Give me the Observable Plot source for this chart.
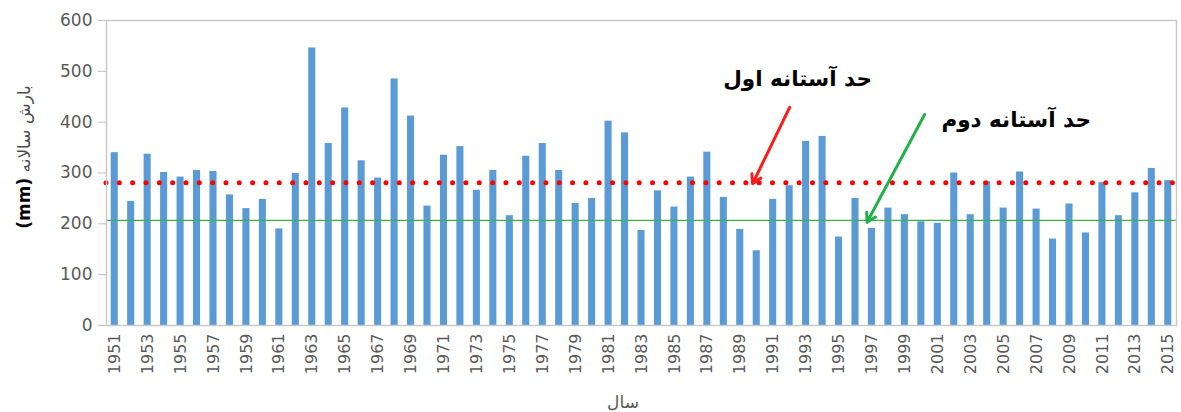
<!DOCTYPE html>
<html>
<head>
<meta charset="utf-8">
<script src="https://cdn.jsdelivr.net/npm/d3@7"></script>
<script src="https://cdn.jsdelivr.net/npm/@observablehq/plot@0.6"></script>
<style>
  html, body { margin: 0; padding: 0; background: #fff; }
  #chart { width: 1181px; height: 412px; }
</style>
</head>
<body>
<div id="chart"></div>
<script>
const years = [1951,1952,1953,1954,1955,1956,1957,1958,1959,1960,
  1961,1962,1963,1964,1965,1966,1967,1968,1969,1970,
  1971,1972,1973,1974,1975,1976,1977,1978,1979,1980,
  1981,1982,1983,1984,1985,1986,1987,1988,1989,1990,
  1991,1992,1993,1994,1995,1996,1997,1998,1999,2000,
  2001,2002,2003,2004,2005,2006,2007,2008,2009,2010,
  2011,2012,2013,2014,2015];
const rainfall = [340,244,337,301,292,305,303,257,230,248,
  190,299,546,358,428,324,290,485,412,235,
  335,352,266,305,216,333,358,305,240,250,
  402,379,187,265,233,292,341,252,189,147,
  248,275,362,372,174,250,191,231,218,204,
  201,300,218,283,231,302,229,170,239,182,
  281,216,261,309,285];
const tickYears = years.filter((y, i) => i % 2 === 0);
const yTicks = [0,100,200,300,400,500,600];
const threshold1 = 281;   // حد آستانه اول
const threshold2 = 207;   // حد آستانه دوم

const labels = [
  {text: "حد آستانه اول", x: 1997.0, y: 484},
  {text: "حد آستانه دوم", x: 2010.3, y: 405}
];
const arrows = [
  {x1: 1992.0, y1: 429, x2: 1989.75, y2: 279, color: "#ff1a1a"},
  {x1: 2000.2, y1: 415, x2: 1996.7, y2: 203, color: "#22b04a"}
];

const data = years.map((y, i) => ({year: y, value: rainfall[i]}));

const plot = Plot.plot({
  width: 1181,
  height: 412,
  marginLeft: 106,
  marginRight: 5,
  marginTop: 20,
  marginBottom: 87,
  style: {fontFamily: "DejaVu Sans", fontSize: "16px", color: "#595959", background: "#fff"},
  x: {type: "linear", domain: [1950.5, 2015.5]},
  y: {domain: [0, 600]},
  marks: [
    Plot.rectY(data, {x1: d => d.year - 0.5, x2: d => d.year + 0.5, y: "value",
      fill: "#5b9bd5", insetLeft: 4.7, insetRight: 4.7}),
    Plot.ruleY([threshold2], {stroke: "#3cb34a", strokeWidth: 1.2}),
    Plot.ruleY([threshold1], {stroke: "#ff0000", strokeWidth: 5, strokeLinecap: "round",
      strokeDasharray: "0 13.33"}),
    Plot.frame({stroke: "#c9c9c9", strokeWidth: 1.5}),
    Plot.axisY({ticks: yTicks, tickSize: 8, tickPadding: 6, label: null,
      fontSize: 17, stroke: "#bfbfbf"}),
    Plot.axisX({ticks: tickYears, tickFormat: d => String(d), tickRotate: -90,
      tickSize: 0, tickPadding: 8, label: null, fontSize: 16}),
    Plot.arrow(arrows, {x1: "x1", y1: "y1", x2: "x2", y2: "y2", stroke: "color",
      strokeWidth: 3, headLength: 5, headAngle: 60}),
    Plot.text(labels, {x: "x", y: "y", text: "text", textAnchor: "end",
      fontWeight: "bold", fontSize: 21.5, fill: "#000"})
  ]
});

const svg = d3.select(plot);
// y-axis title
const yt = svg.append("text")
  .attr("transform", "translate(30,157) rotate(-90)")
  .attr("text-anchor", "middle")
  .attr("direction", "rtl")
  .style("font-size", "17px");
yt.append("tspan").attr("fill", "#4d4d4d").text("بارش سالانه ");
yt.append("tspan").attr("fill", "#000").attr("font-weight", "bold").text("(mm)");
// x-axis title
svg.append("text")
  .attr("x", 623).attr("y", 408)
  .attr("text-anchor", "middle")
  .attr("fill", "#595959")
  .style("font-size", "17px")
  .text("سال");

document.getElementById("chart").appendChild(plot);
</script>
</body>
</html>
